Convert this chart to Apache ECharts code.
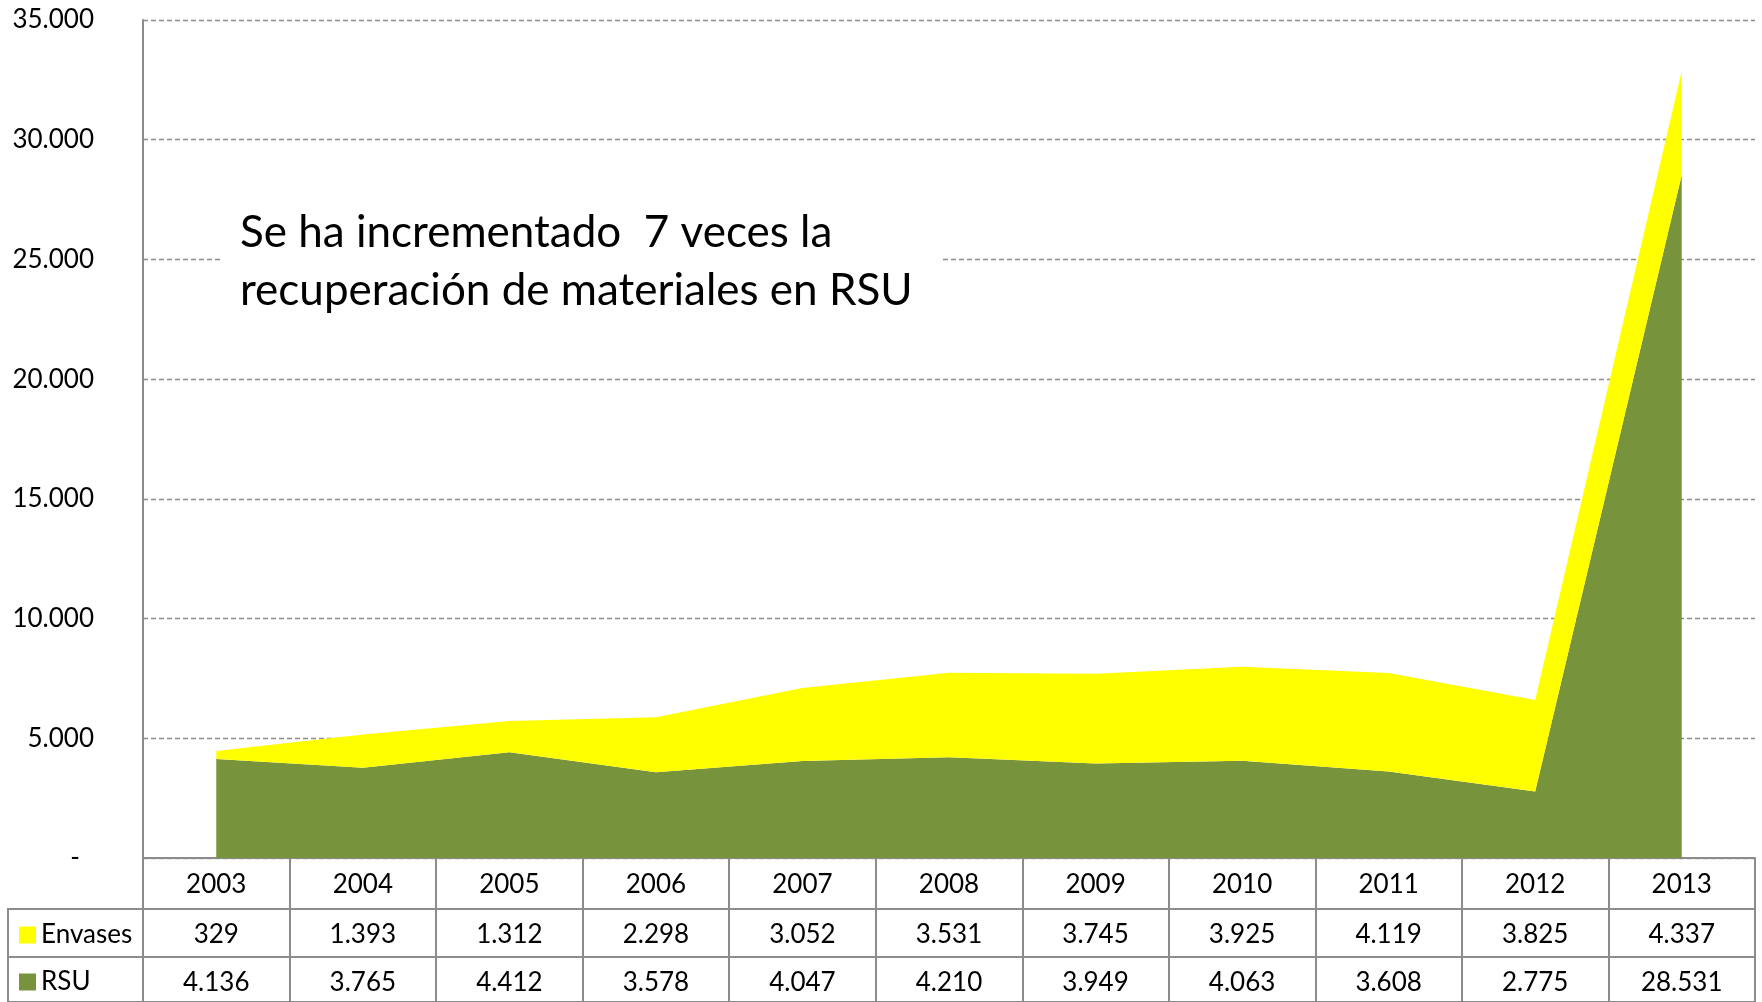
<!DOCTYPE html>
<html>
<head>
<meta charset="utf-8">
<script src="https://cdn.jsdelivr.net/npm/echarts@6/dist/echarts.min.js"></script>
<style>
html,body{margin:0;padding:0;background:#fff;}
#c{width:1762px;height:1002px;}
</style>
</head>
<body>
<div id="c"></div>
<script>
const years = ['2003','2004','2005','2006','2007','2008','2009','2010','2011','2012','2013'];
const envases = [329,1393,1312,2298,3052,3531,3745,3925,4119,3825,4337];
const rsu = [4136,3765,4412,3578,4047,4210,3949,4063,3608,2775,28531];
const yTicks = [0,5000,10000,15000,20000,25000,30000,35000];
const note = 'Se ha incrementado  7 veces la\nrecuperación de materiales en RSU';

const FONT = 'Lato';
const GRAY = '#8c8c8c';
function fmt(v){ return String(v).replace(/\B(?=(\d{3})+(?!\d))/g, '.'); }

const chart = echarts.init(document.getElementById('c'));
const rowAxis = (gi, vals) => ({
  gridIndex: gi, type: 'category', position: 'top', data: vals.map(fmt), boundaryGap: true,
  axisLine: {show: true, lineStyle: {color: GRAY, width: 2}},
  axisTick: {show: false},
  axisLabel: {inside: true, margin: 26, verticalAlign: 'middle', color: '#000', fontFamily: FONT, fontSize: 26, interval: 0},
  splitLine: {show: true, lineStyle: {color: GRAY, width: 2, type: 'solid'}}
});
const hiddenY = gi => ({gridIndex: gi, type: 'value', show: false, splitLine: {show: false}});
const hiddenX = gi => ({gridIndex: gi, type: 'category', data: [''], show: false});
const legendItem = (name, top) => ({
  data: [name], orient: 'vertical', left: 19, top: top, padding: 0,
  icon: 'rect', itemWidth: 17, itemHeight: 17, selectedMode: false,
  textStyle: {fontFamily: FONT, fontSize: 26, color: '#000'}
});

chart.setOption({
  animation: false,
  backgroundColor: '#fff',
  title: {
    text: note, left: 221, top: 186, padding: [18, 28, 18, 19], backgroundColor: '#fff',
    textStyle: {fontFamily: FONT, fontSize: 44, fontWeight: 'normal', color: '#000', lineHeight: 58}
  },
  legend: [legendItem('Envases', 922), legendItem('RSU', 969)],
  grid: [
    {left: 143, right: 7, top: 20, bottom: 144},
    {left: 143, right: 7, top: 909, height: 48, show: true, borderColor: GRAY, borderWidth: 2},
    {left: 143, right: 7, top: 957, height: 48, show: true, borderColor: GRAY, borderWidth: 2},
    {left: 8, width: 135, top: 909, height: 48, show: true, borderColor: GRAY, borderWidth: 2},
    {left: 8, width: 135, top: 957, height: 48, show: true, borderColor: GRAY, borderWidth: 2}
  ],
  xAxis: [
    {
      gridIndex: 0, type: 'category', data: years, boundaryGap: true, position: 'bottom',
      axisLine: {show: true, lineStyle: {color: GRAY, width: 2}},
      axisTick: {show: true, length: 51, lineStyle: {color: GRAY, width: 2}},
      axisLabel: {margin: 27, verticalAlign: 'middle', color: '#000', fontFamily: FONT, fontSize: 26, interval: 0},
      splitLine: {show: false}
    },
    rowAxis(1, envases),
    rowAxis(2, rsu),
    hiddenX(3), hiddenX(4)
  ],
  yAxis: [
    {
      gridIndex: 0, type: 'value', min: yTicks[0], max: yTicks[yTicks.length-1], interval: yTicks[1]-yTicks[0],
      axisLine: {show: true, lineStyle: {color: GRAY, width: 2}},
      axisTick: {show: false},
      axisLabel: {margin: 49, color: '#000', fontFamily: FONT, fontSize: 26,
        formatter: v => v === 0 ? '{d|-}' : fmt(v),
        rich: {d: {fontFamily: FONT, fontSize: 26, color: '#000', padding: [0, 14, 0, 0]}}},
      splitLine: {show: true, lineStyle: {color: GRAY, width: 1.3, type: [5, 3]}}
    },
    hiddenY(1), hiddenY(2), hiddenY(3), hiddenY(4)
  ],
  series: [
    {
      name: 'RSU', type: 'line', stack: 'total', xAxisIndex: 0, yAxisIndex: 0, data: rsu,
      symbol: 'none', lineStyle: {width: 0}, areaStyle: {color: '#77933C', opacity: 1},
      itemStyle: {color: '#77933C'}, z: 2
    },
    {
      name: 'Envases', type: 'line', stack: 'total', xAxisIndex: 0, yAxisIndex: 0, data: envases,
      symbol: 'none', lineStyle: {width: 0}, areaStyle: {color: '#FFFF00', opacity: 1},
      itemStyle: {color: '#FFFF00'}, z: 2
    }
  ]
});
</script>
</body>
</html>
